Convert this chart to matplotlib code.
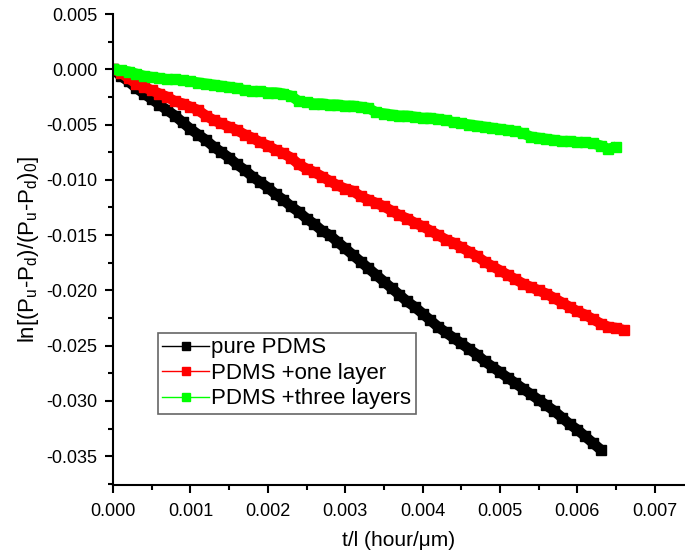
import matplotlib
matplotlib.use("Agg")
import matplotlib.pyplot as plt
from matplotlib.ticker import MultipleLocator, FormatStrFormatter

plt.rcParams['font.family'] = ['Liberation Sans', 'DejaVu Sans']
plt.rcParams['mathtext.fontset'] = 'custom'
plt.rcParams['mathtext.rm'] = 'Liberation Sans'
plt.rcParams['mathtext.default'] = 'regular'

# t/l values (hour/um), sampled every 0.0001
x_pure = [i * 0.0001 for i in range(64)]
y_pure = [0.0000, -0.0006, -0.0011, -0.0017, -0.0022, -0.0027, -0.0032, -0.0037,
          -0.0042, -0.0048, -0.0054, -0.0059, -0.0064, -0.0070, -0.0075, -0.0080,
          -0.0086, -0.0091, -0.0097, -0.0102, -0.0107, -0.0113, -0.0118, -0.0124,
          -0.0129, -0.0135, -0.0140, -0.0146, -0.0150, -0.0156, -0.0162, -0.0168,
          -0.0174, -0.0180, -0.0186, -0.0192, -0.0198, -0.0204, -0.0210, -0.0215,
          -0.0221, -0.0227, -0.0233, -0.0238, -0.0243, -0.0248, -0.0253, -0.0258,
          -0.0264, -0.0269, -0.0274, -0.0279, -0.0284, -0.0289, -0.0294, -0.0299,
          -0.0304, -0.0309, -0.0315, -0.0321, -0.0326, -0.0332, -0.0338, -0.0344]

x_one = [i * 0.0001 for i in range(67)]
y_one = [0.0000, -0.0003, -0.0008, -0.0013, -0.0016, -0.0019, -0.0022, -0.0025,
         -0.0029, -0.0031, -0.0034, -0.0037, -0.0042, -0.0046, -0.0049, -0.0052,
         -0.0055, -0.0059, -0.0062, -0.0066, -0.0069, -0.0073, -0.0076, -0.0080,
         -0.0086, -0.0090, -0.0093, -0.0097, -0.0101, -0.0105, -0.0108, -0.0110,
         -0.0115, -0.0118, -0.0121, -0.0124, -0.0128, -0.0132, -0.0135, -0.0139,
         -0.0142, -0.0146, -0.0150, -0.0154, -0.0157, -0.0161, -0.0165, -0.0169,
         -0.0174, -0.0178, -0.0182, -0.0186, -0.0190, -0.0194, -0.0197, -0.0200,
         -0.0203, -0.0207, -0.0211, -0.0215, -0.0219, -0.0222, -0.0226, -0.0230,
         -0.0233, -0.0234, -0.0236]

x_three = [i * 0.0001 for i in range(66)]
y_three = [0.0000, -0.0001, -0.0002, -0.0004, -0.0006, -0.0007, -0.0008, -0.0009,
           -0.0009, -0.0010, -0.0011, -0.0012, -0.0013, -0.0014, -0.0015, -0.0016,
           -0.0017, -0.0019, -0.0020, -0.0020, -0.0021, -0.0021, -0.0022, -0.0024,
           -0.0029, -0.0030, -0.0031, -0.0031, -0.0032, -0.0032, -0.0033, -0.0033,
           -0.0034, -0.0035, -0.0039, -0.0040, -0.0041, -0.0042, -0.0042, -0.0043,
           -0.0044, -0.0044, -0.0045, -0.0046, -0.0048, -0.0049, -0.0050, -0.0051,
           -0.0052, -0.0053, -0.0054, -0.0055, -0.0056, -0.0058, -0.0061, -0.0062,
           -0.0063, -0.0064, -0.0065, -0.0065, -0.0066, -0.0066, -0.0067, -0.0069,
           -0.0072, -0.0070]

labels = ['pure PDMS', 'PDMS +one layer', 'PDMS +three layers']
colors = ['#000000', '#ff0000', '#00ff00']

fig = plt.figure(figsize=(6.85, 5.56), dpi=100)
ax = fig.add_axes([0.165, 0.1277, 0.835, 0.8471])

for xs, ys, lab, c in zip([x_pure, x_one, x_three], [y_pure, y_one, y_three], labels, colors):
    # dense measurement points overlap into a solid band
    ax.plot(xs, ys, '-', color=c, lw=7.5, solid_capstyle='butt', label='_nolegend_')
    ax.plot(xs, ys, '-s', color=c, lw=1, ms=7.5, mec=c, mfc=c, label=lab)

ax.set_xlim(0, 0.00739)
ax.set_ylim(-0.0376, 0.005)
ax.xaxis.set_major_locator(MultipleLocator(0.001))
ax.xaxis.set_minor_locator(MultipleLocator(0.0005))
ax.yaxis.set_major_locator(MultipleLocator(0.005))
ax.yaxis.set_minor_locator(MultipleLocator(0.0025))
ax.xaxis.set_major_formatter(FormatStrFormatter('%.3f'))
ax.yaxis.set_major_formatter(FormatStrFormatter('%.3f'))

for s in ['top', 'right']:
    ax.spines[s].set_visible(False)
for s in ['left', 'bottom']:
    ax.spines[s].set_linewidth(1.5)

ax.tick_params(which='major', direction='out', length=6, width=1.5, labelsize=13, pad=5)
ax.tick_params(which='minor', direction='out', length=3.5, width=1.5)
ax.tick_params(axis='x', which='major', pad=7)

ax.set_xlabel('t/l (hour/μm)', fontsize=15, labelpad=8)
ax.set_ylabel('ln[(P$_u$-P$_d$)/(P$_u$-P$_d$)$_0$]', fontsize=16, labelpad=4)

leg = ax.legend(loc='upper left', bbox_to_anchor=(0.0787, 0.3227), borderaxespad=0,
                fontsize=16, frameon=True, fancybox=False, edgecolor='#404040',
                handlelength=2.1, handletextpad=0.1, labelspacing=0.2,
                borderpad=0.2, markerscale=0.7)
leg.get_frame().set_linewidth(1.2)

fig.savefig('out.png', dpi=100)
